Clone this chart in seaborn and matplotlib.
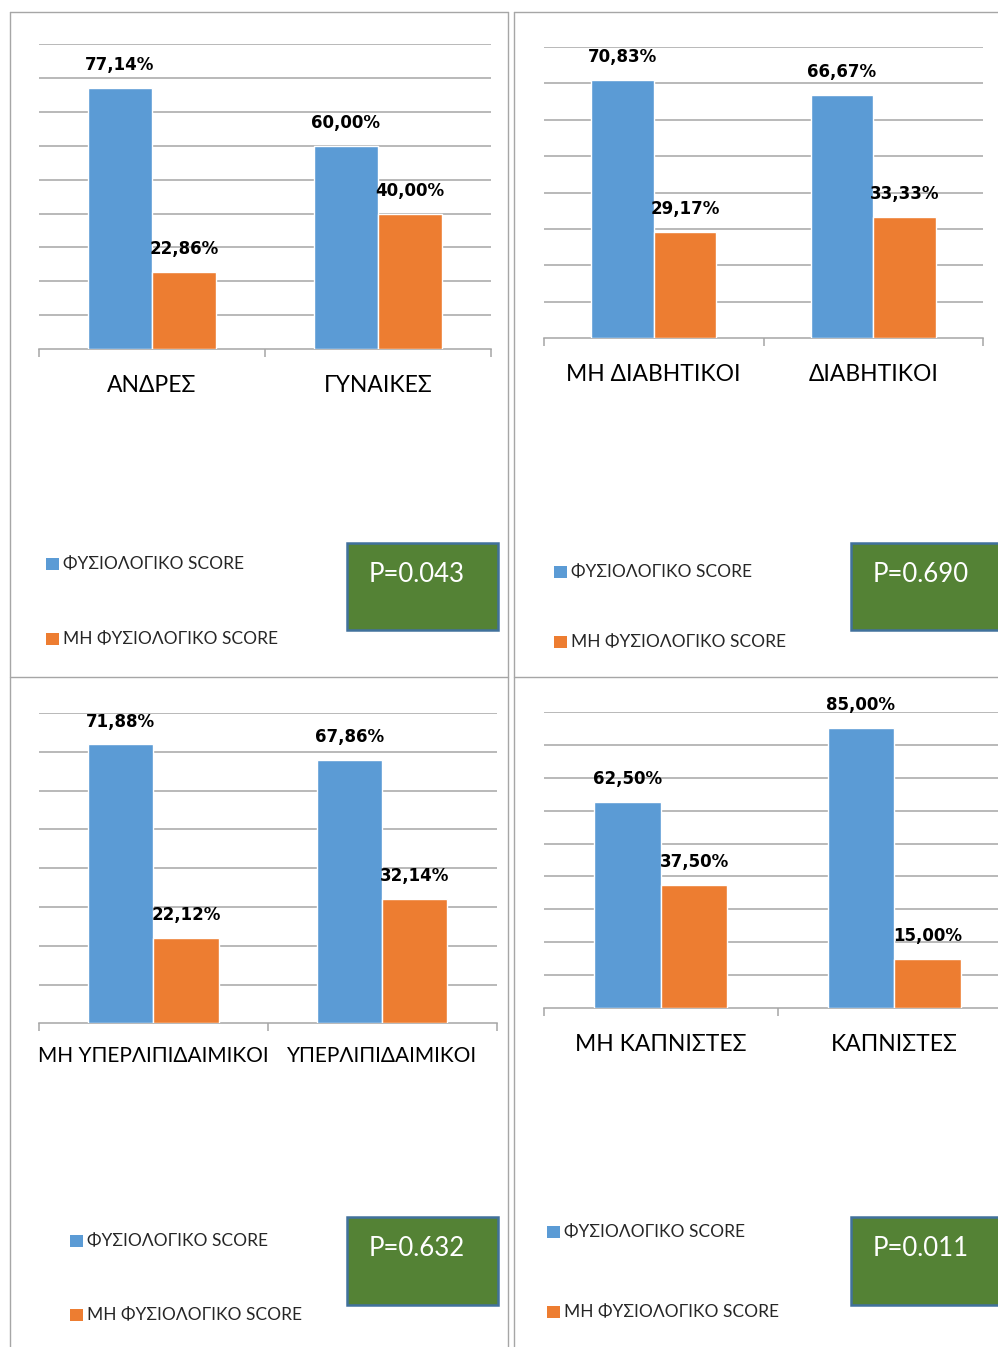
"""
Τέσσερα ραβδογράμματα: φυσιολογικό / μη φυσιολογικό score ανά ομάδα ασθενών
"""

import numpy as np
import pandas as pd
import matplotlib.pyplot as plt
import seaborn as sns
from matplotlib.patches import Rectangle
from matplotlib.lines import Line2D

sns.set_style('white')
plt.rcParams['font.family'] = ['Lato', 'DejaVu Sans']

W, H = 998, 1347

# ---- δεδομένα ----
series_names = ['ΦΥΣΙΟΛΟΓΙΚΟ SCORE', 'ΜΗ ΦΥΣΙΟΛΟΓΙΚΟ SCORE']

groups_sex = ['ΑΝΔΡΕΣ', 'ΓΥΝΑΙΚΕΣ']
normal_sex = [77.14, 60.00]
abnormal_sex = [22.86, 40.00]
p_sex = 'P=0.043'

groups_diab = ['ΜΗ ΔΙΑΒΗΤΙΚΟΙ', 'ΔΙΑΒΗΤΙΚΟΙ']
normal_diab = [70.83, 66.67]
abnormal_diab = [29.17, 33.33]
p_diab = 'P=0.690'

groups_lip = ['ΜΗ ΥΠΕΡΛΙΠΙΔΑΙΜΙΚΟΙ', 'ΥΠΕΡΛΙΠΙΔΑΙΜΙΚΟΙ']
normal_lip = [71.88, 67.86]
abnormal_lip = [22.12, 32.14]
p_lip = 'P=0.632'

groups_smk = ['ΜΗ ΚΑΠΝΙΣΤΕΣ', 'ΚΑΠΝΙΣΤΕΣ']
normal_smk = [62.50, 85.00]
abnormal_smk = [37.50, 15.00]
p_smk = 'P=0.011'

BLUE = '#5B9BD5'
ORANGE = '#ED7D31'
GRID = '#A6A6A6'
GREEN = '#548235'
BOX_EDGE = '#41719C'


def fx(px):
    return px / W


def fy(py):
    return 1 - py / H


# θέση κάθε πάνελ σε pixel: άξονες (x0, x1, y_top, y_base), ymax, legend, P-box
panels = [
    dict(groups=groups_sex, normal=normal_sex, abnormal=abnormal_sex, p=p_sex,
         ax=(39, 491, 44.3, 349), ymax=90, label_size=16.5, pad=19,
         leg_x=46, leg_y=(564, 639), box=(347, 543, 151, 87)),
    dict(groups=groups_diab, normal=normal_diab, abnormal=abnormal_diab, p=p_diab,
         ax=(544, 983, 46.7, 338.3), ymax=80, label_size=16.5, pad=18.5,
         leg_x=554, leg_y=(572, 642), box=(851, 543, 160, 87)),
    dict(groups=groups_lip, normal=normal_lip, abnormal=abnormal_lip, p=p_lip,
         ax=(39, 496.7, 713, 1023.3), ymax=80, label_size=15, pad=16.5,
         leg_x=70, leg_y=(1241, 1315), box=(347, 1217, 151, 88)),
    dict(groups=groups_smk, normal=normal_smk, abnormal=abnormal_smk, p=p_smk,
         ax=(544, 1011, 711.7, 1008.3), ymax=90, label_size=16.5, pad=18.5,
         leg_x=547, leg_y=(1232, 1312), box=(851, 1217, 160, 88)),
]

fig = plt.figure(figsize=(W / 100, H / 100), dpi=100)

# πλαίσια των πάνελ
frame_lines = [
    ((10, 10), (12, H)), ((508, 508), (12, H)), ((10, 508), (12, 12)),
    ((514, 514), (12, H)), ((514, W), (12, 12)),
    ((10, 508), (677, 677)), ((514, W), (677, 677)),
]
for xs, ys in frame_lines:
    fig.add_artist(Line2D([fx(x) for x in xs], [fy(y) for y in ys],
                          color=GRID, lw=1.0, transform=fig.transFigure))

for pnl in panels:
    x0, x1, yt, yb = pnl['ax']
    ax = fig.add_axes([fx(x0), fy(yb), (x1 - x0) / W, (yb - yt) / H])

    df = pd.DataFrame({
        'group': pnl['groups'] * 2,
        'value': pnl['normal'] + pnl['abnormal'],
        'score': [series_names[0]] * 2 + [series_names[1]] * 2,
    })
    sns.barplot(data=df, x='group', y='value', hue='score', hue_order=series_names,
                palette=[BLUE, ORANGE], width=0.57, gap=0, saturation=1,
                legend=False, ax=ax, zorder=3)

    # ετικέτες τιμών με κόμμα δεκαδικών
    for cont in ax.containers:
        labels = [f'{v:.2f}'.replace('.', ',') + '%' for v in cont.datavalues]
        ax.bar_label(cont, labels=labels, padding=10, fontsize=12,
                     fontweight='bold', family='DejaVu Sans', color='black')

    ax.set_xlim(-0.5, 1.5)
    ax.set_ylim(0, pnl['ymax'])
    ax.set_yticks(np.arange(10, pnl['ymax'] + 1, 10))
    ax.yaxis.grid(True, color=GRID, lw=1.1)
    ax.set_axisbelow(True)
    ax.tick_params(axis='y', left=False, labelleft=False)
    ax.set_xticks([-0.5, 0.5, 1.5], minor=True)
    ax.tick_params(axis='x', which='minor', bottom=True, length=6, width=1.1,
                   color=GRID, direction='out')
    ax.tick_params(axis='x', which='major', bottom=True, length=0, pad=pnl['pad'],
                   labelsize=pnl['label_size'], labelcolor='black')
    ax.set_xlabel('')
    ax.set_ylabel('')
    for side in ['top', 'right', 'left']:
        ax.spines[side].set_visible(False)
    ax.spines['bottom'].set_color(GRID)
    ax.spines['bottom'].set_linewidth(1.1)
    ax.set_facecolor('none')

    # υπόμνημα
    for name, col, yy in zip(series_names, [BLUE, ORANGE], pnl['leg_y']):
        fig.add_artist(Rectangle((fx(pnl['leg_x']), fy(yy + 6)), 13 / W, 12 / H,
                                 facecolor=col, edgecolor='none',
                                 transform=fig.transFigure))
        fig.text(fx(pnl['leg_x'] + 17), fy(yy), name, fontsize=12.5,
                 color='#262626', ha='left', va='center')

    # πλαίσιο τιμής P
    bx, by, bw, bh = pnl['box']
    fig.add_artist(Rectangle((fx(bx), fy(by + bh)), bw / W, bh / H,
                             facecolor=GREEN, edgecolor=BOX_EDGE, lw=1.8,
                             transform=fig.transFigure))
    fig.text(fx(bx + 22), fy(by + 39), pnl['p'], fontsize=18.5, color='white',
             ha='left', va='baseline')

fig.savefig('out.png', dpi=100, facecolor='white')
